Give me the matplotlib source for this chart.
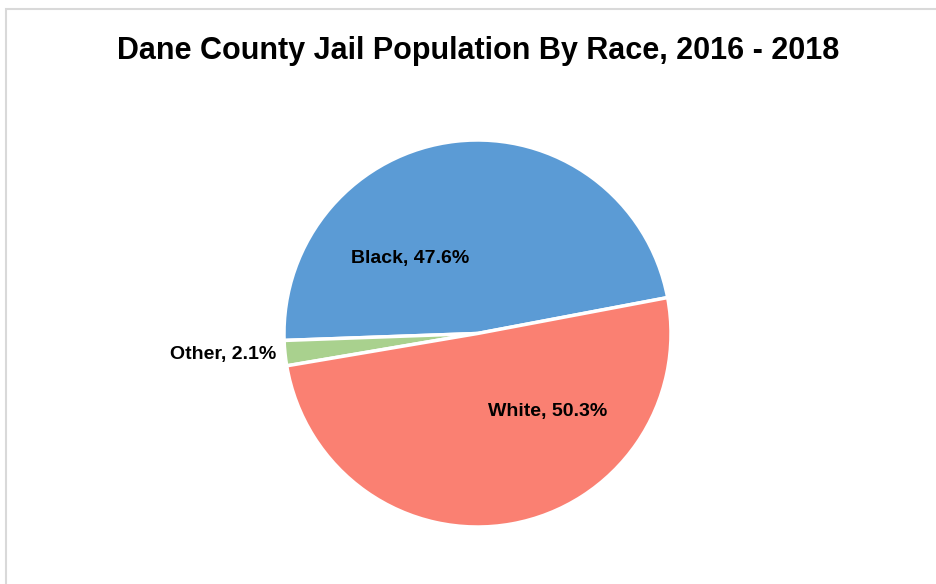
import matplotlib
matplotlib.use("Agg")
import matplotlib.pyplot as plt
from matplotlib.patches import Rectangle
import numpy as np

categories = ["Black", "Other", "White"]
shares = [47.6, 2.1, 50.3]
colors = ["#5B9BD5", "#A9D18E", "#FA8072"]
title = "Dane County Jail Population By Race, 2016 - 2018"

plt.rcParams['font.family'] = ['Liberation Sans Narrow', 'Liberation Sans', 'DejaVu Sans']

W, H = 936, 584
fig = plt.figure(figsize=(W / 100, H / 100), dpi=100)
fig.patch.set_facecolor("white")

# outer chart border
fig.patches.append(Rectangle((6 / W, -0.05), 1.1, (H - 9) / H + 0.05, transform=fig.transFigure,
                             fill=False, edgecolor="#D9D9D9", linewidth=1.5))

cx, cy, r = 477.5, H - 333.5, 193.5
ax = fig.add_axes([(cx - r) / W, (cy - r) / H, 2 * r / W, 2 * r / H])
wedges, _ = ax.pie(shares, colors=colors, startangle=10.7, counterclock=True,
                   wedgeprops=dict(edgecolor="white", linewidth=2.5))
ax.set_xlim(-1, 1)
ax.set_ylim(-1, 1)
ax.axis("off")

label_pos = {"Black": (0.52, 132.2, "center"), "White": (0.54, -48.0, "center"),
             "Other": (1.04, 186.1, "right")}
for cat, val in zip(categories, shares):
    rr, ang, ha = label_pos[cat]
    a = np.deg2rad(ang)
    if cat == "Other":
        x, y = -1.04, -21.5 / r
    else:
        x, y = rr * np.cos(a), rr * np.sin(a)
    ax.text(x, y, f"{cat}, {val}%", ha=ha, va="center", fontsize=14, fontweight="bold",
            color="black", clip_on=False)

fig.text(478 / W, 1 - 51 / H, title, ha="center", va="center", fontsize=22, fontweight="bold")

fig.savefig("out.png", dpi=100)
